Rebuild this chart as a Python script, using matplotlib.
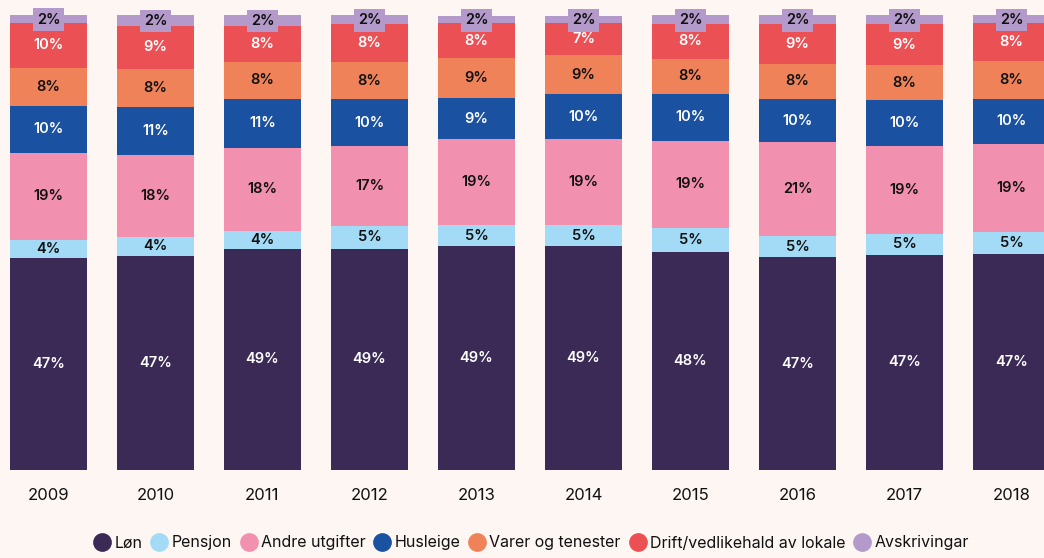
import numpy as np
import matplotlib
matplotlib.use("Agg")
import matplotlib.pyplot as plt
from matplotlib.lines import Line2D

plt.rcParams['font.family'] = ['Inter', 'DejaVu Sans']

years = ["2009", "2010", "2011", "2012", "2013", "2014", "2015", "2016", "2017", "2018"]
categories = ["Løn", "Pensjon", "Andre utgifter", "Husleige", "Varer og tenester",
              "Drift/vedlikehald av lokale", "Avskrivingar"]

lon = [46.6, 47.1, 48.6, 48.6, 49.2, 49.2, 47.9, 46.8, 47.3, 47.4]
pensjon = [4.0, 4.2, 4.0, 5.1, 4.6, 4.6, 5.3, 4.6, 4.6, 4.8]
andre = [19.1, 17.9, 18.2, 17.4, 18.9, 18.9, 19.1, 20.6, 19.3, 19.4]
husleige = [10.3, 10.6, 10.8, 10.4, 9.0, 9.9, 10.4, 9.6, 10.1, 10.0]
varer = [8.4, 8.4, 8.1, 8.2, 8.8, 8.6, 7.7, 7.6, 7.7, 8.3]
drift = [9.9, 9.4, 7.9, 8.3, 7.7, 7.0, 7.6, 8.8, 9.0, 8.3]
avskriv = [1.8, 2.4, 2.4, 2.0, 1.6, 1.6, 2.0, 2.0, 2.0, 1.8]

series = [lon, pensjon, andre, husleige, varer, drift, avskriv]
colors = ["#3B2A56", "#A3DAF5", "#F190AF", "#1A51A0", "#F0825A", "#EB5055", "#B49ACA"]
text_colors = ["white", "#111111", "#111111", "white", "#111111", "white", "#111111"]
bg = "#FEF6F2"

W, H = 1044, 558
fig = plt.figure(figsize=(W / 100, H / 100), dpi=100, facecolor=bg)
# axes in pixel terms: bottom of bars at y=470, top of axes at y=5
ax = fig.add_axes([0, (H - 470) / H, 1, 465 / H])
ax.set_facecolor(bg)

x = np.arange(len(years))
step = 107.0
ax.set_xlim(-48.5 / step, (W - 48.5) / step)
ax.set_ylim(0, 465 / 4.55)

bottom = np.zeros(len(years))
for i, vals in enumerate(series):
    vals = np.array(vals)
    ax.bar(x, vals, bottom=bottom, width=0.72, color=colors[i], linewidth=0)
    for j in range(len(years)):
        yc = bottom[j] + vals[j] / 2
        lab = "%d%%" % round(vals[j])
        if i == len(series) - 1:
            ax.text(x[j], yc - 0.2, lab, ha="center", va="center", fontsize=10.5,
                    fontweight="semibold", color=text_colors[i],
                    bbox=dict(boxstyle="square,pad=0.28", facecolor=colors[i], edgecolor="none"))
        else:
            ax.text(x[j], yc, lab, ha="center", va="center", fontsize=10.5,
                    fontweight="semibold", color=text_colors[i])
    bottom += vals

for s in ax.spines.values():
    s.set_visible(False)
ax.set_yticks([])
ax.set_xticks(x)
ax.set_xticklabels(years, fontsize=12, color="#111111")
ax.tick_params(axis="x", length=0, pad=13)

handles = [Line2D([0], [0], marker="o", linestyle="none", markersize=13.5,
                  markerfacecolor=c, markeredgecolor="none") for c in colors]
fig.legend(handles, categories, loc="center", bbox_to_anchor=(0.508, 1 - 543 / H),
           ncol=7, frameon=False, fontsize=11.5, handletextpad=0.1,
           columnspacing=0.42, handlelength=1.3, labelcolor="#111111")

fig.savefig("out.png", dpi=100, facecolor=bg)
